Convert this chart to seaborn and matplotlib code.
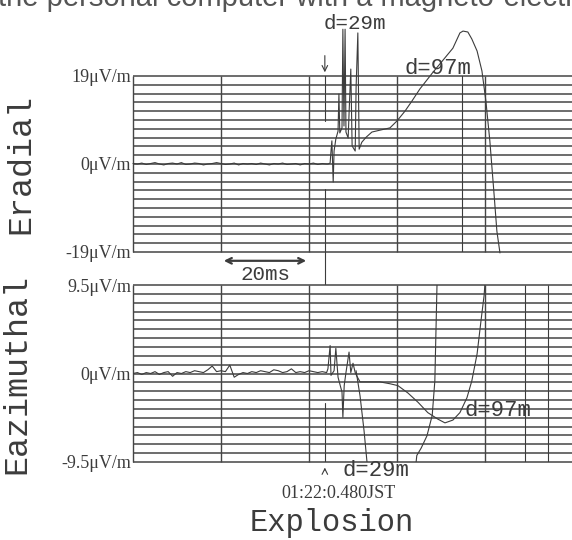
import matplotlib
matplotlib.use("Agg")
import matplotlib.pyplot as plt
import seaborn as sns

# time in ms from the left edge, field in uV/m
grid_t = [0, 20, 40, 60, 80]
explosion_t = 43.6

# Eradial trace
rad_base_t = list(range(45))
rad_base_v = [0.1, 0.0, 0.2, -0.1, 0.1, 0.3, 0.0, -0.2, 0.1, 0.2,
              0.0, 0.3, -0.1, 0.0, 0.2, 0.1, -0.2, 0.0, 0.1, 0.3,
              0.1, -0.1, 0.0, 0.2, -0.2, 0.1, 0.0, 0.1, -0.1, 0.2,
              0.0, -0.2, 0.1, 0.0, 0.2, -0.1, 0.0, 0.1, -0.2, 0.1,
              0.0, 0.2, -0.1, 0.1, 0.0]
rad_event_t = [44.3, 44.8, 45.0, 45.2, 45.5, 45.7, 46.1, 46.6, 46.8, 47.0,
               47.5, 47.7, 47.95, 48.2, 48.4, 48.9, 49.1, 49.5, 49.8, 50.5,
               50.7, 51.1, 51.4, 52.0, 53.0, 54.3, 56.1, 58.4, 60.0, 61.8,
               63.4, 65.2, 68.0, 70.7, 72.7, 74.3, 75.0, 76.1, 77.0, 78.2,
               79.3, 80.2, 81.1, 82.0, 82.7, 83.4]
rad_event_v = [0.0, 0.2, 2.8, 5.0, -3.9, 2.8, 5.4, 7.1, 15.1, 6.7,
               7.8, 29.1, 8.2, 29.1, 6.9, 5.6, 10.8, 20.5, 3.9, 2.8,
               16.4, 28.3, 3.2, 4.7, 5.8, 6.9, 7.3, 7.8, 9.3, 11.4,
               13.6, 16.2, 19.6, 22.7, 25.0, 28.3, 28.7, 28.5, 27.0, 24.4,
               20.1, 13.6, 5.0, -5.8, -14.5, -19.2]
rad_pen_t = [74.8]

# Eazimuthal trace
az_base_t = list(range(44))
az_base_v = [0.0, 0.1, -0.1, 0.1, 0.0, 0.2, -0.1, 0.1, 0.2, -0.3,
             0.1, 0.0, 0.2, 0.1, 0.3, 0.2, 0.1, 0.4, 0.8, 0.2,
             0.3, 0.2, 0.9, -0.4, -0.1, 0.1, 0.0, 0.2, 0.1, 0.3,
             0.2, 0.1, 0.4, 0.3, 0.1, 0.2, 0.5, 0.1, 0.2, 0.1,
             0.3, 0.2, 0.1, 0.2]
az_event_t = [44.0, 44.3, 44.8, 45.0, 45.7, 46.1, 46.6, 47.5, 47.7, 48.0,
              48.4, 49.1, 49.5, 50.0, 50.5, 50.9, 51.6, 53.9, 56.1, 58.4,
              60.2, 62.5, 64.8, 67.0, 69.3, 70.9, 72.7, 74.3, 75.9, 77.0,
              78.2, 79.1, 79.8, 80.0]
az_event_v = [0.1, 0.5, 3.0, -0.2, 0.3, 2.7, -0.4, -2.0, -4.7, -1.3,
              0.1, 2.3, 0.1, 1.1, 0.1, -0.3, -0.9, -0.9, -0.9, -1.1,
              -1.3, -2.1, -3.1, -4.2, -4.9, -5.3, -5.0, -4.2, -2.6, -0.8,
              2.1, 5.7, 8.4, 9.7]
az_29_down_t = [50.7, 51.6, 52.5, 53.2, 53.6]
az_29_down_v = [0.3, -2.4, -6.1, -9.6, -11.5]
az_29_up_t = [63.9, 64.5, 65.5, 66.8, 68.0, 68.6, 69.1, 69.3]
az_29_up_v = [-11.5, -8.8, -8.0, -6.7, -4.5, -0.8, 9.7, 11.0]
az_pen_t = [89.1, 94.3]

INK = "#3c3c3c"
GRID = "#454545"
MONO = "Liberation Mono"
SERIF = "Liberation Serif"

sns.set_style("white")
plt.rcParams["font.family"] = ["Liberation Serif", "DejaVu Sans"]

fig = plt.figure(figsize=(5.72, 5.40), dpi=100)
ax1 = fig.add_axes([133 / 572, 288 / 540, 440 / 572, 176 / 540])
ax2 = fig.add_axes([133 / 572, 78 / 540, 440 / 572, 177 / 540])


def draw_grid(ax, lim):
    step = 2 * lim / 20
    levels = [-lim + i * step for i in range(21)]
    ax.hlines(levels, 0, 100, colors=GRID, lw=1.1, clip_on=False)
    ax.vlines(grid_t, -lim, lim, colors=GRID, lw=1.0, clip_on=False)


def trace(ax, t, v, clip=True):
    n = len(ax.lines)
    sns.lineplot(x=t, y=v, ax=ax, color=INK, lw=0.8, sort=False,
                 estimator=None, legend=False)
    for ln in ax.lines[n:]:
        ln.set_clip_on(clip)


# top panel
draw_grid(ax1, 19)
trace(ax1, rad_base_t + rad_event_t, rad_base_v + rad_event_v, clip=False)
ax1.vlines(rad_pen_t, -19, 28.3, colors=INK, lw=0.8)
ax1.plot([explosion_t] * 2, [19.2, 9.3], color=INK, lw=0.8)
ax1.plot([explosion_t] * 2, [-5.4, -34.5], color=INK, lw=0.8, clip_on=False)
ax1.annotate("", xy=(explosion_t, 19.2), xytext=(explosion_t, 24.0),
             arrowprops=dict(arrowstyle="->", color=INK, lw=0.8),
             annotation_clip=False)
ax1.annotate("", xy=(20, -20.9), xytext=(40, -20.9),
             arrowprops=dict(arrowstyle="<->", color=INK, lw=1.6),
             annotation_clip=False)
ax1.text(30, -23.8, "20ms", family=MONO, fontsize=15, color=INK,
         ha="center", va="center", clip_on=False)
ax1.text(50.5, 30.4, "d=29m", family=MONO, fontsize=15, color=INK,
         ha="center", va="center", clip_on=False)
ax1.text(69.3, 20.6, "d=97m", family=MONO, fontsize=16, color=INK,
         ha="center", va="center", clip_on=False)
ax1.set_xlim(0, 100)
ax1.set_ylim(-19, 19)
ax1.set_yticks([19, 0, -19], ["19\u03bcV/m", "0\u03bcV/m", "-19\u03bcV/m"])
ax1.set_ylabel("Eradial", family=MONO, fontsize=24, color=INK)
ax1.yaxis.set_label_coords(-0.219, 0.5)

# bottom panel
draw_grid(ax2, 9.5)
trace(ax2, az_base_t + az_event_t, az_base_v + az_event_v)
trace(ax2, az_29_down_t, az_29_down_v)
trace(ax2, az_29_up_t, az_29_up_v)
ax2.vlines(az_pen_t, -9.5, 9.5, colors=INK, lw=0.8)
ax2.plot([explosion_t] * 2, [-3.2, -9.5], color=INK, lw=0.8)
ax2.annotate("", xy=(explosion_t, -9.8), xytext=(explosion_t, -10.7),
             arrowprops=dict(arrowstyle="->", color=INK, lw=0.8),
             annotation_clip=False)
ax2.text(83.0, -4.0, "d=97m", family=MONO, fontsize=16, color=INK,
         ha="center", va="center", clip_on=False)
ax2.text(55.2, -10.4, "d=29m", family=MONO, fontsize=16, color=INK,
         ha="center", va="center", clip_on=False)
ax2.text(46.8, -12.9, "01:22:0.480JST", family=SERIF, fontsize=13,
         color=INK, ha="center", va="center", clip_on=False)
ax2.text(45.2, -16.1, "Explosion", family=MONO, fontsize=22, color=INK,
         ha="center", va="center", clip_on=False)
ax2.set_xlim(0, 100)
ax2.set_ylim(-9.5, 9.5)
ax2.set_yticks([9.5, 0, -9.5], ["9.5\u03bcV/m", "0\u03bcV/m", "-9.5\u03bcV/m"])
ax2.set_ylabel("Eazimuthal", family=MONO, fontsize=24, color=INK)
ax2.yaxis.set_label_coords(-0.228, 0.5)

for ax in (ax1, ax2):
    ax.set_xticks([])
    ax.tick_params(axis="y", length=0, pad=1.5, labelsize=13, labelcolor=INK)
    sns.despine(ax=ax, left=True, bottom=True)

# heading of the scanned page, cut by the top edge as in the source
fig.text(-0.004, 1 - 6 / 540, "the personal computer with a magneto-electric",
         family="Liberation Sans", fontsize=21, color="#555555",
         ha="left", va="baseline")

fig.savefig("out.png", dpi=100)
